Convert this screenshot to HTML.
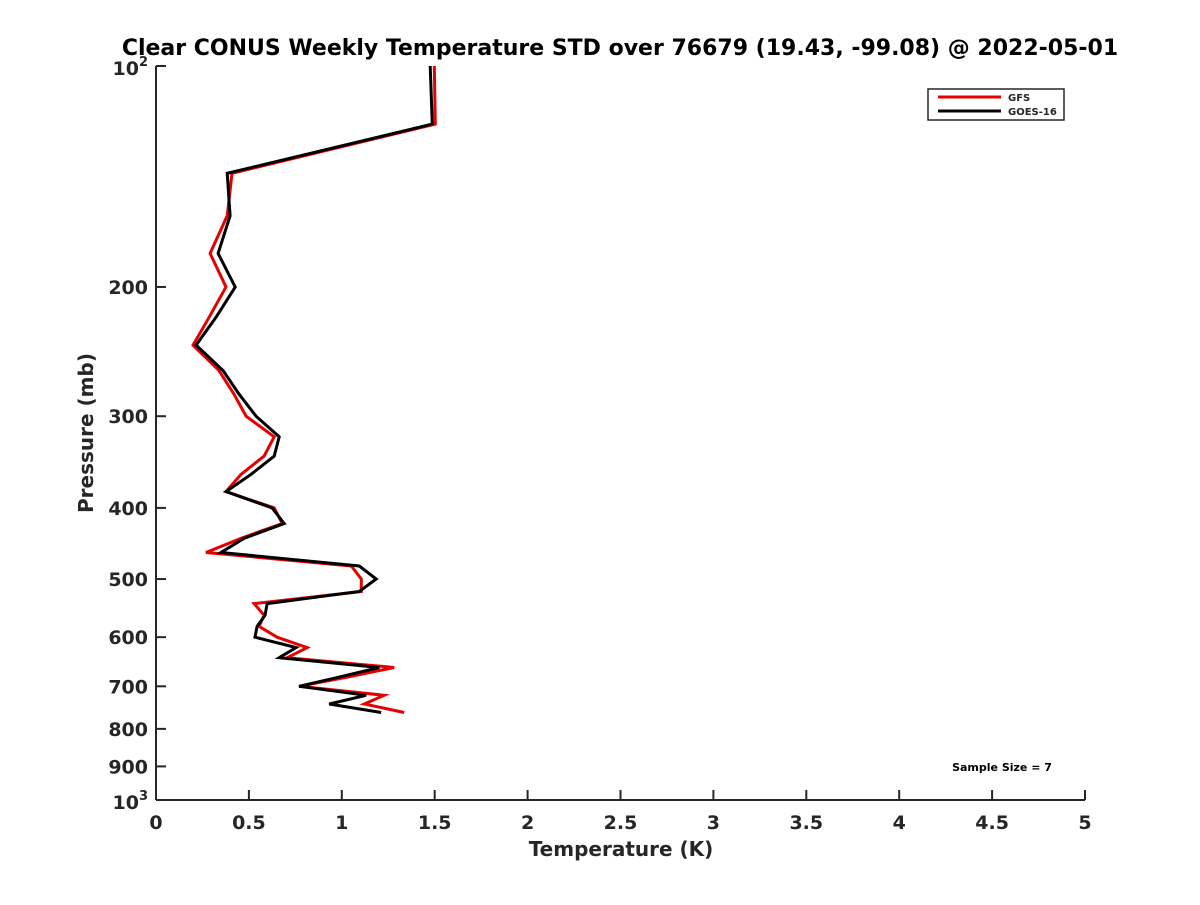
<!DOCTYPE html>
<html><head><meta charset="utf-8"><style>
html,body{margin:0;padding:0;background:#fff;}
svg text{font-family:"DejaVu Sans","Liberation Sans",sans-serif;font-weight:bold;fill:#262626;}
</style></head><body>
<svg id="chart" width="1200" height="900" xmlns="http://www.w3.org/2000/svg">
<text x="620" y="55" text-anchor="middle" font-size="22" style="fill:#000">Clear CONUS Weekly Temperature STD over 76679 (19.43, -99.08) @ 2022-05-01</text>
<g id="axes"></g>
<g id="series"></g>
<text x="621" y="856" text-anchor="middle" font-size="20">Temperature (K)</text>
<text transform="translate(93,433) rotate(-90)" text-anchor="middle" font-size="20">Pressure (mb)</text>
<g>
<rect x="928" y="89" width="136" height="31" fill="#fff" stroke="#262626" stroke-width="1.5"/>
<line x1="938" y1="97" x2="1001" y2="97" stroke="#e60000" stroke-width="3"/>
<text x="1008" y="101" font-size="10">GFS</text>
<line x1="938" y1="111" x2="1001" y2="111" stroke="#000" stroke-width="3"/>
<text x="1008" y="115" font-size="10">GOES-16</text>
</g>
<text x="1002" y="771" text-anchor="middle" font-size="11" style="fill:#000">Sample Size = 7</text>
</svg>
<script>
const pressures=[100,120,140,160,180,200,220,240,260,280,300,320,340,360,380,400,420,440,460,480,500,520,540,560,580,600,620,640,660,680,700,720,740,760];
const gfsValues=[1.498,1.503,0.409,0.383,0.291,0.377,0.286,0.199,0.339,0.420,0.485,0.636,0.582,0.458,0.377,0.636,0.679,0.458,0.269,1.051,1.105,1.105,0.528,0.582,0.555,0.652,0.814,0.706,1.282,1.029,0.770,1.228,1.121,1.336];
const goesValues=[1.476,1.487,0.383,0.399,0.334,0.426,0.323,0.216,0.361,0.447,0.539,0.663,0.636,0.512,0.377,0.625,0.690,0.474,0.350,1.094,1.185,1.094,0.598,0.587,0.544,0.533,0.754,0.663,1.202,0.986,0.770,1.131,0.932,1.212];
const xTicks=[0,0.5,1,1.5,2,2.5,3,3.5,4,4.5,5];
const yTicks=[200,300,400,500,600,700,800,900];
const NS="http://www.w3.org/2000/svg";
const X0=156,X1=1085,Y0=66,Y1=800;
function xs(v){return X0+(v-0)/(5-0)*(X1-X0);}
function ys(p){return Y0+(Math.log10(p)-2)*(Y1-Y0);}
function mk(tag,attrs,parent){const e=document.createElementNS(NS,tag);for(const k in attrs)e.setAttribute(k,attrs[k]);parent.appendChild(e);return e;}
const ax=document.getElementById('axes');
const yAxis=mk('line',{x1:X0,y1:Y0,x2:X0,y2:Y1,stroke:'#262626','stroke-width':2},ax);


const xAxis=mk('line',{x1:X0,y1:Y1,x2:X1,y2:Y1,stroke:'#262626','stroke-width':2},ax);


xTicks.forEach(v=>{
 const t=mk('line',{x1:xs(v),y1:Y1,x2:xs(v),y2:Y1-10,stroke:'#262626','stroke-width':2},ax);
 
 
 const l=mk('text',{x:xs(v),y:Y1+29,'text-anchor':'middle','font-size':19},ax);
 
 
 l.textContent=String(v);
});
[100,1000].concat(yTicks).forEach(p=>{
 const t=mk('line',{x1:X0,y1:ys(p),x2:X0+10,y2:ys(p),stroke:'#262626','stroke-width':2},ax);
 
 
});
yTicks.forEach(p=>{
 const l=mk('text',{x:X0-8,y:ys(p)+7,'text-anchor':'end','font-size':19},ax);
 
 
 l.textContent=String(p);
});
[[100,'2'],[1000,'3']].forEach(([p,e])=>{
 const l=mk('text',{x:X0-8,y:ys(p)+9,'text-anchor':'end','font-size':19},ax);
 
 
 l.textContent='10';
 const s=mk('tspan',{dy:-9,'font-size':13},l);
 s.textContent=e;
});
const sg=document.getElementById('series');
function line(vals,color,name){
 const pts=vals.map((v,i)=>xs(v).toFixed(1)+','+ys(pressures[i]).toFixed(1)).join(' ');
 const pl=mk('polyline',{points:pts,fill:'none',stroke:color,'stroke-width':3,'stroke-linejoin':'miter'},sg);
 
 
}
line(gfsValues,'#e60000','gfs-line');
line(goesValues,'#000','goes16-line');
</script>
</body></html>
